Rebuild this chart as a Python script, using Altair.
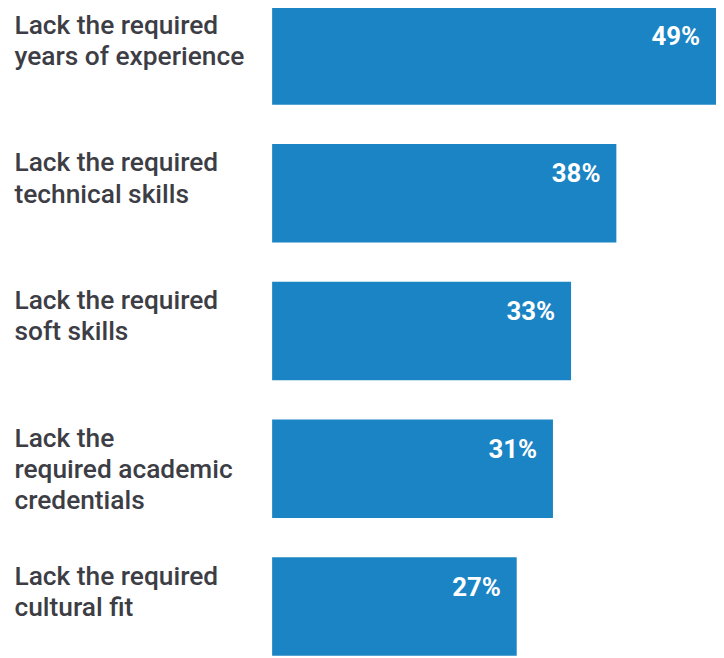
import altair as alt
import pandas as pd

categories = [
    "Lack the required\nyears of experience",
    "Lack the required\ntechnical skills",
    "Lack the required\nsoft skills",
    "Lack the\nrequired academic\ncredentials",
    "Lack the required\ncultural fit",
]
values = [49, 38, 33, 31, 27]
value_labels = ["49%", "38%", "33%", "31%", "27%"]

df = pd.DataFrame({"cat": categories, "val": values, "lab": value_labels})

y = alt.Y(
    "cat:N",
    sort=categories,
    title=None,
    scale=alt.Scale(paddingInner=0.285, paddingOuter=0),
    axis=alt.Axis(
        domain=False,
        ticks=False,
        labelAlign="left",
        labelBaseline="top",
        labelPadding=260,
        labelOffset=-43,
        labelFont="Roboto",
        labelFontSize=26.5,
        labelFontWeight=500,
        labelColor="#3d3d45",
        labelLineHeight=31.5,
        labelLimit=400,
        labelExpr="split(datum.label, '\\n')",
    ),
)
x = alt.X("val:Q", scale=alt.Scale(domain=[0, 49], nice=False), axis=None)

bars = alt.Chart(df).mark_bar(color="#1b84c4").encode(x=x, y=y)
text = alt.Chart(df).mark_text(
    align="right", baseline="middle", dx=-16, dy=-19,
    font="Roboto", fontSize=26, fontWeight="bold", color="white"
).encode(x=x, y=alt.Y("cat:N", sort=categories), text="lab:N")

chart = (bars + text).properties(
    width=447, height=654,
    autosize=alt.AutoSizeParams(type="none"),
    padding={"left": 266, "top": -4, "right": 0, "bottom": 0},
).configure_view(stroke=None)

chart.save("out.html", embed_options={"renderer": "svg", "actions": False})
